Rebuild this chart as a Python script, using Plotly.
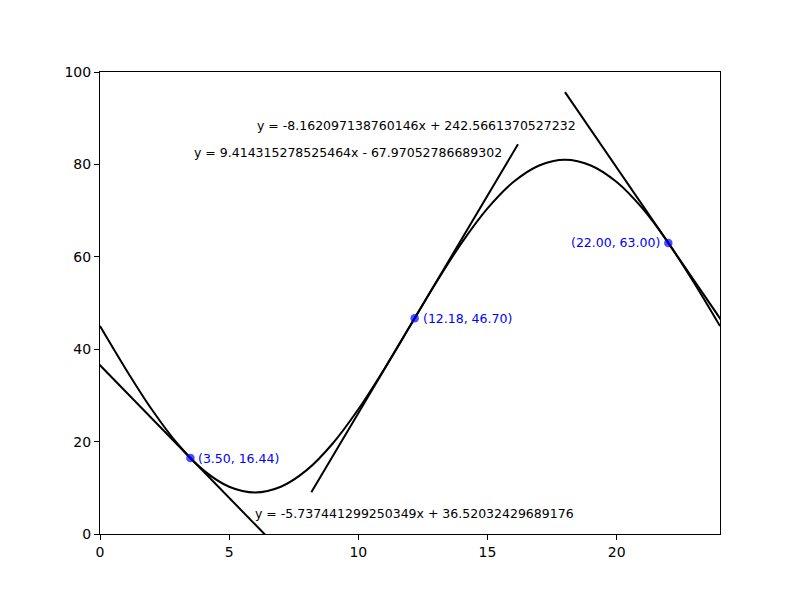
import plotly.graph_objects as go

# Curve samples
curve_x = list(range(0, 25))
curve_y = [45.0, 35.68, 27.0, 19.54, 13.82, 10.23, 9.0, 10.23, 13.82, 19.54, 27.0, 35.68,
           45.0, 54.32, 63.0, 70.46, 76.18, 79.77, 81.0, 79.77, 76.18, 70.46, 63.0, 54.32, 45.0]

# Tangent points
pt_x = [3.50, 12.18, 22.00]
pt_y = [16.44, 46.70, 63.00]
pt_labels = ["(3.50, 16.44)", "(12.18, 46.70)", "(22.00, 63.00)"]
pt_anchor = ["left", "left", "right"]

# Tangent lines
slopes = [-5.737441299250349, 9.414315278525464, -8.162097138760146]
intercepts = [36.52032429689176, -67.97052786689302, 242.5661370527232]
half_span = 4.0
eq_texts = ["y = -5.737441299250349x + 36.52032429689176",
            "y = 9.414315278525464x - 67.97052786689302",
            "y = -8.162097138760146x + 242.5661370527232"]
eq_x = [12.19, 9.59, 12.26]
eq_y = [4.5, 82.5, 88.5]

fig = go.Figure()
fig.add_trace(go.Scatter(x=curve_x, y=curve_y, mode="lines", line=dict(color="black", width=2, shape="spline", smoothing=1.0),
                         showlegend=False, hoverinfo="skip"))
for x0, m, b in zip(pt_x, slopes, intercepts):
    xs = [x0 - half_span, x0 + half_span]
    ys = [m * v + b for v in xs]
    fig.add_trace(go.Scatter(x=xs, y=ys, mode="lines", line=dict(color="black", width=2),
                             showlegend=False, hoverinfo="skip"))
fig.add_trace(go.Scatter(x=pt_x, y=pt_y, mode="markers",
                         marker=dict(color="rgba(0,0,255,0.7)", size=8.5, line=dict(width=0)),
                         showlegend=False, cliponaxis=False))

annotations = []
for x, y, t, a in zip(pt_x, pt_y, pt_labels, pt_anchor):
    annotations.append(dict(x=x, y=y, text=t, showarrow=False, xanchor=a, yanchor="middle",
                            xshift=6 if a == "left" else -6,
                            font=dict(family="DejaVu Sans", size=12.5, color="blue")))
for x, y, t in zip(eq_x, eq_y, eq_texts):
    annotations.append(dict(x=x, y=y, text=t, showarrow=False, xanchor="center", yanchor="middle",
                            font=dict(family="DejaVu Sans", size=12.5, color="black")))

axis_common = dict(showgrid=False, zeroline=False, showline=True, linecolor="black", linewidth=1,
                   mirror=True, ticks="outside", ticklen=5, tickcolor="black", tickwidth=1,
                   tickfont=dict(family="DejaVu Sans", size=14, color="black"))
fig.update_layout(
    width=792, height=592,
    margin=dict(l=92, r=80, t=64, b=66),
    paper_bgcolor="white", plot_bgcolor="white",
    xaxis=dict(range=[0, 24], tickvals=[0, 5, 10, 15, 20], **axis_common),
    yaxis=dict(range=[0, 100], tickvals=[0, 20, 40, 60, 80, 100], **axis_common),
    annotations=annotations,
)
fig.write_html("out.html")
